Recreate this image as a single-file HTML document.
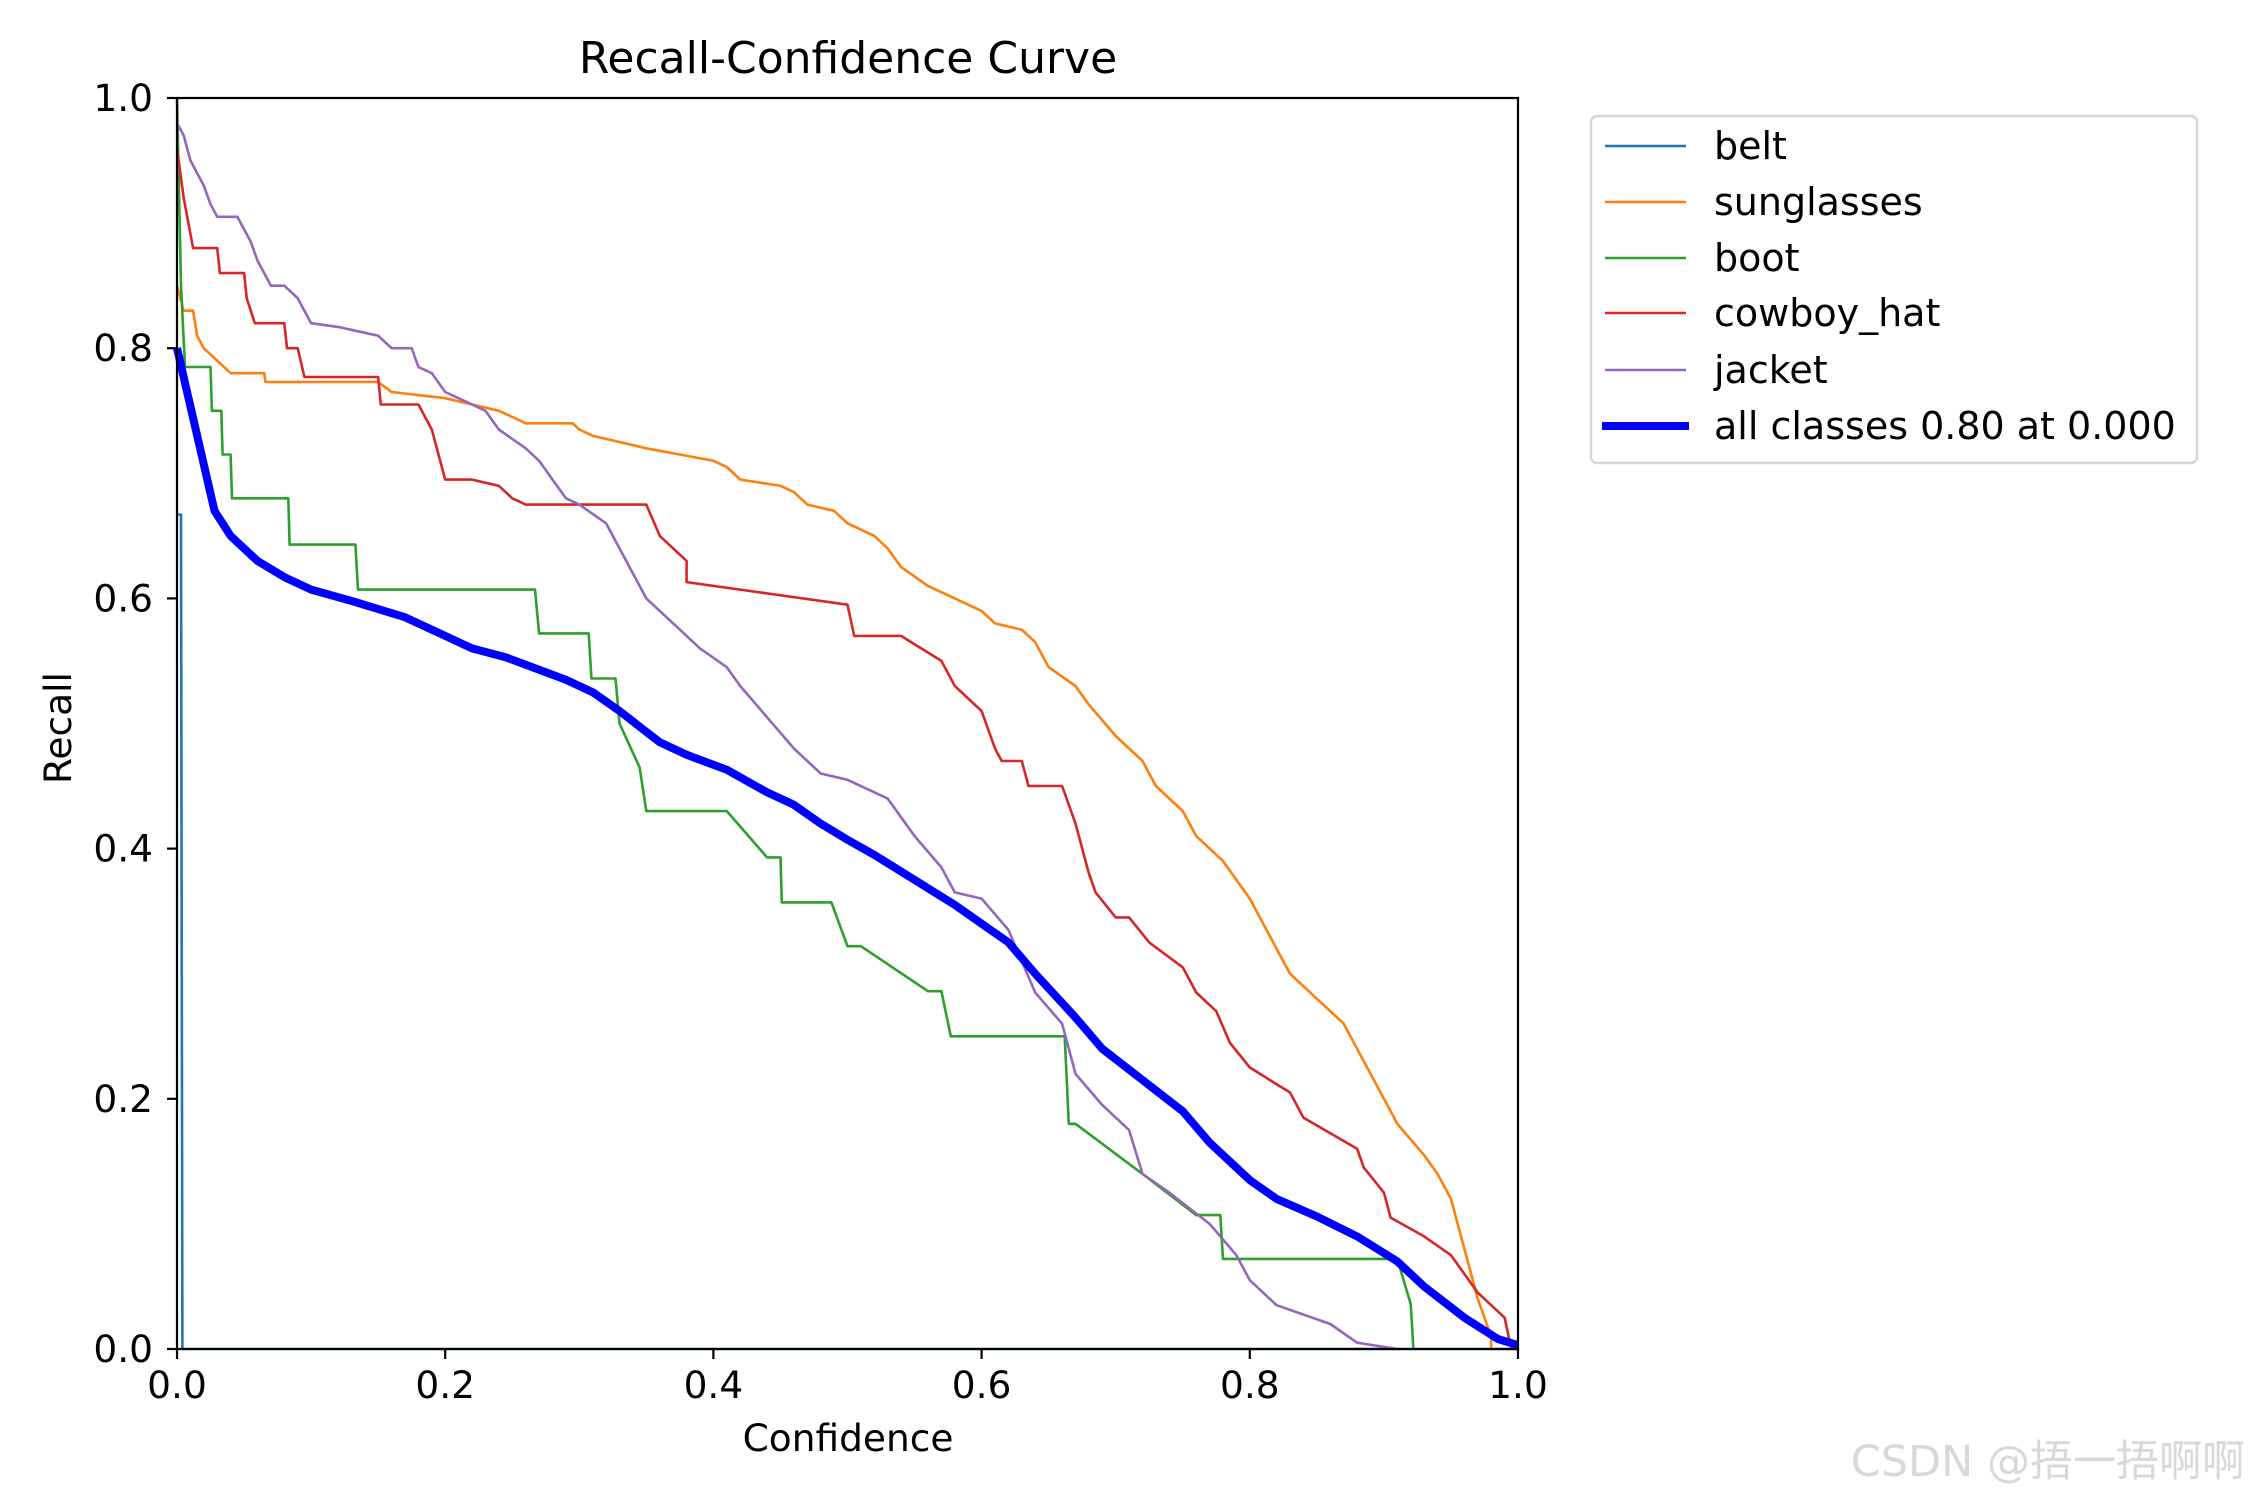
<!DOCTYPE html>
<html><head><meta charset="utf-8"><style>
html,body{margin:0;padding:0;background:#fff;}
svg{display:block;font-family:"DejaVu Sans","Liberation Sans","Noto Sans CJK SC",sans-serif;}
</style></head><body>
<svg id="chart" width="2250" height="1500" viewBox="0 0 2250 1500" xmlns="http://www.w3.org/2000/svg">
<rect width="2250" height="1500" fill="#fff"/>
<text x="848" y="73" font-size="44" text-anchor="middle">Recall-Confidence Curve</text>
<g id="series"></g>
<g id="axes"></g>
<text x="848" y="1451" font-size="37.5" text-anchor="middle">Confidence</text>
<text x="71" y="728" font-size="37.5" text-anchor="middle" transform="rotate(-90 71 728)">Recall</text>
<g>
<rect x="1591" y="116" width="606" height="347" rx="6" fill="#fff" stroke="#d6d6d6" stroke-width="2.5"/>
<g><line x1="1605" y1="146" x2="1686" y2="146" stroke="#1f77b4" stroke-width="2.6"/><text x="1714" y="159" font-size="38">belt</text></g>
<g><line x1="1605" y1="202" x2="1686" y2="202" stroke="#ff7f0e" stroke-width="2.6"/><text x="1714" y="215" font-size="38">sunglasses</text></g>
<g><line x1="1605" y1="258" x2="1686" y2="258" stroke="#2ca02c" stroke-width="2.6"/><text x="1714" y="271" font-size="38">boot</text></g>
<g><line x1="1605" y1="313" x2="1686" y2="313" stroke="#d62728" stroke-width="2.6"/><text x="1714" y="326" font-size="38">cowboy_hat</text></g>
<g><line x1="1605" y1="370" x2="1686" y2="370" stroke="#9467bd" stroke-width="2.6"/><text x="1714" y="383" font-size="38">jacket</text></g>
<g><line x1="1602" y1="426" x2="1689" y2="426" stroke="#0000ff" stroke-width="8"/><text x="1714" y="439" font-size="38">all classes 0.80 at 0.000</text></g>
</g>
<text x="2245" y="1476" font-size="43" text-anchor="end" fill="#d8d8d8">CSDN @捂一捂啊啊</text>
</svg>
<script>
const xTicks=[0,0.2,0.4,0.6,0.8,1.0];
const yTicks=[0,0.2,0.4,0.6,0.8,1.0];
const tickLabels=["0.0","0.2","0.4","0.6","0.8","1.0"];
const beltX=[0.001,0.003,0.004,1.0];
const beltY=[0.667,0.667,0.0,0.0];
const sunX=[0,0.005,0.012,0.015,0.02,0.03,0.04,0.065,0.066,0.15,0.16,0.2,0.22,0.24,0.25,0.26,0.295,0.3,0.31,0.33,0.35,0.375,0.4,0.41,0.42,0.45,0.46,0.47,0.49,0.5,0.52,0.53,0.54,0.56,0.58,0.6,0.61,0.63,0.64,0.65,0.67,0.68,0.7,0.72,0.73,0.75,0.76,0.78,0.8,0.81,0.82,0.83,0.85,0.87,0.88,0.9,0.91,0.93,0.94,0.95,0.96,0.97,0.98,0.98];
const sunY=[0.85,0.83,0.83,0.81,0.80,0.79,0.78,0.78,0.773,0.773,0.765,0.76,0.755,0.75,0.745,0.74,0.74,0.735,0.73,0.725,0.72,0.715,0.71,0.705,0.695,0.69,0.685,0.675,0.67,0.66,0.65,0.64,0.625,0.61,0.6,0.59,0.58,0.575,0.565,0.545,0.53,0.515,0.49,0.47,0.45,0.43,0.41,0.39,0.36,0.34,0.32,0.3,0.28,0.26,0.24,0.2,0.18,0.155,0.14,0.12,0.08,0.04,0.01,0];
const bootX=[0,0.003,0.006,0.025,0.026,0.033,0.034,0.04,0.041,0.083,0.084,0.133,0.135,0.267,0.27,0.307,0.309,0.327,0.33,0.345,0.35,0.41,0.44,0.45,0.451,0.488,0.5,0.51,0.56,0.57,0.577,0.662,0.665,0.67,0.72,0.76,0.778,0.78,0.91,0.92,0.922];
const bootY=[1.0,0.85,0.785,0.785,0.75,0.75,0.715,0.715,0.68,0.68,0.643,0.643,0.607,0.607,0.572,0.572,0.536,0.536,0.5,0.465,0.43,0.43,0.393,0.393,0.357,0.357,0.322,0.322,0.286,0.286,0.25,0.25,0.18,0.18,0.14,0.107,0.107,0.072,0.072,0.036,0.0];
const hatX=[0,0.005,0.012,0.03,0.032,0.05,0.052,0.058,0.08,0.082,0.09,0.095,0.15,0.152,0.18,0.19,0.2,0.22,0.24,0.25,0.26,0.35,0.36,0.38,0.38,0.5,0.505,0.54,0.57,0.58,0.6,0.61,0.615,0.63,0.635,0.66,0.67,0.68,0.685,0.7,0.71,0.725,0.75,0.76,0.775,0.785,0.8,0.83,0.84,0.88,0.885,0.9,0.905,0.93,0.95,0.97,0.99,0.995];
const hatY=[0.96,0.92,0.88,0.88,0.86,0.86,0.84,0.82,0.82,0.80,0.80,0.777,0.777,0.755,0.755,0.735,0.695,0.695,0.69,0.68,0.675,0.675,0.65,0.63,0.613,0.595,0.57,0.57,0.55,0.53,0.51,0.48,0.47,0.47,0.45,0.45,0.42,0.38,0.365,0.345,0.345,0.325,0.305,0.285,0.27,0.245,0.225,0.205,0.185,0.16,0.145,0.125,0.105,0.09,0.075,0.045,0.025,0.0];
const jacX=[0,0.005,0.01,0.015,0.02,0.025,0.03,0.045,0.05,0.055,0.06,0.065,0.07,0.08,0.09,0.1,0.12,0.15,0.16,0.175,0.18,0.19,0.2,0.21,0.22,0.23,0.24,0.26,0.27,0.28,0.29,0.3,0.32,0.33,0.34,0.35,0.37,0.39,0.41,0.42,0.44,0.46,0.48,0.5,0.53,0.55,0.57,0.58,0.6,0.62,0.63,0.64,0.66,0.67,0.69,0.71,0.72,0.74,0.77,0.79,0.8,0.82,0.86,0.88,0.91];
const jacY=[0.98,0.97,0.95,0.94,0.93,0.915,0.905,0.905,0.895,0.885,0.87,0.86,0.85,0.85,0.84,0.82,0.817,0.81,0.8,0.8,0.785,0.78,0.765,0.76,0.755,0.75,0.735,0.72,0.71,0.695,0.68,0.675,0.66,0.64,0.62,0.6,0.58,0.56,0.545,0.53,0.505,0.48,0.46,0.455,0.44,0.41,0.385,0.365,0.36,0.335,0.31,0.285,0.26,0.22,0.195,0.175,0.14,0.125,0.1,0.075,0.055,0.035,0.02,0.005,0.0];
const allX=[0,0.028,0.04,0.06,0.08,0.1,0.13,0.17,0.2,0.22,0.245,0.27,0.29,0.31,0.33,0.36,0.38,0.41,0.44,0.46,0.48,0.5,0.52,0.55,0.58,0.6,0.62,0.64,0.67,0.69,0.72,0.75,0.77,0.8,0.82,0.85,0.88,0.91,0.93,0.96,0.985,1.0];
const allY=[0.80,0.67,0.65,0.63,0.617,0.607,0.598,0.585,0.57,0.56,0.553,0.543,0.535,0.525,0.51,0.485,0.475,0.463,0.445,0.435,0.42,0.407,0.395,0.375,0.355,0.34,0.325,0.3,0.265,0.24,0.215,0.19,0.165,0.135,0.12,0.106,0.09,0.07,0.05,0.025,0.008,0.003];

const L=177,R=1518,T=98,B=1349;
function sx(v){return L+v*(R-L);}
function sy(v){return B-v*(B-T);}
const NS="http://www.w3.org/2000/svg";
const sg=document.getElementById('series');
function path(xs,ys,color,w,name){
  const p=document.createElementNS(NS,'path');
  let d='';
  for(let i=0;i<xs.length;i++){d+=(i?'L':'M')+sx(xs[i]).toFixed(1)+','+sy(ys[i]).toFixed(1);}
  p.setAttribute('d',d);p.setAttribute('fill','none');p.setAttribute('stroke',color);
  p.setAttribute('stroke-width',w);p.setAttribute('stroke-linejoin','round');
  
  
  sg.appendChild(p);
}
path(beltX,beltY,'#1f77b4',2.6,'belt-line');
path(sunX,sunY,'#ff7f0e',2.6,'sunglasses-line');
path(bootX,bootY,'#2ca02c',2.6,'boot-line');
path(hatX,hatY,'#d62728',2.6,'cowboy-hat-line');
path(jacX,jacY,'#9467bd',2.6,'jacket-line');
path(allX,allY,'#0000ff',8,'all-classes-line');

const ag=document.getElementById('axes');
const fr=document.createElementNS(NS,'rect');
fr.setAttribute('x',L);fr.setAttribute('y',T);fr.setAttribute('width',R-L);fr.setAttribute('height',B-T);
fr.setAttribute('fill','none');fr.setAttribute('stroke','#000');fr.setAttribute('stroke-width','2.2');


ag.appendChild(fr);
xTicks.forEach((v,i)=>{
  const t=document.createElementNS(NS,'line');
  t.setAttribute('x1',sx(v));t.setAttribute('x2',sx(v));t.setAttribute('y1',B);t.setAttribute('y2',B+10);
  t.setAttribute('stroke','#000');t.setAttribute('stroke-width','2.2');
  
  
  ag.appendChild(t);
  const tx=document.createElementNS(NS,'text');
  tx.setAttribute('x',sx(v));tx.setAttribute('y',B+49);tx.setAttribute('font-size','37.5');tx.setAttribute('text-anchor','middle');
  tx.textContent=tickLabels[i];
  
  
  ag.appendChild(tx);
});
yTicks.forEach((v,i)=>{
  const t=document.createElementNS(NS,'line');
  t.setAttribute('x1',L-10);t.setAttribute('x2',L);t.setAttribute('y1',sy(v));t.setAttribute('y2',sy(v));
  t.setAttribute('stroke','#000');t.setAttribute('stroke-width','2.2');
  
  
  ag.appendChild(t);
  const tx=document.createElementNS(NS,'text');
  tx.setAttribute('x',L-24);tx.setAttribute('y',sy(v)+13);tx.setAttribute('font-size','37.5');tx.setAttribute('text-anchor','end');
  tx.textContent=tickLabels[i];
  
  
  ag.appendChild(tx);
});
</script>
</body></html>
